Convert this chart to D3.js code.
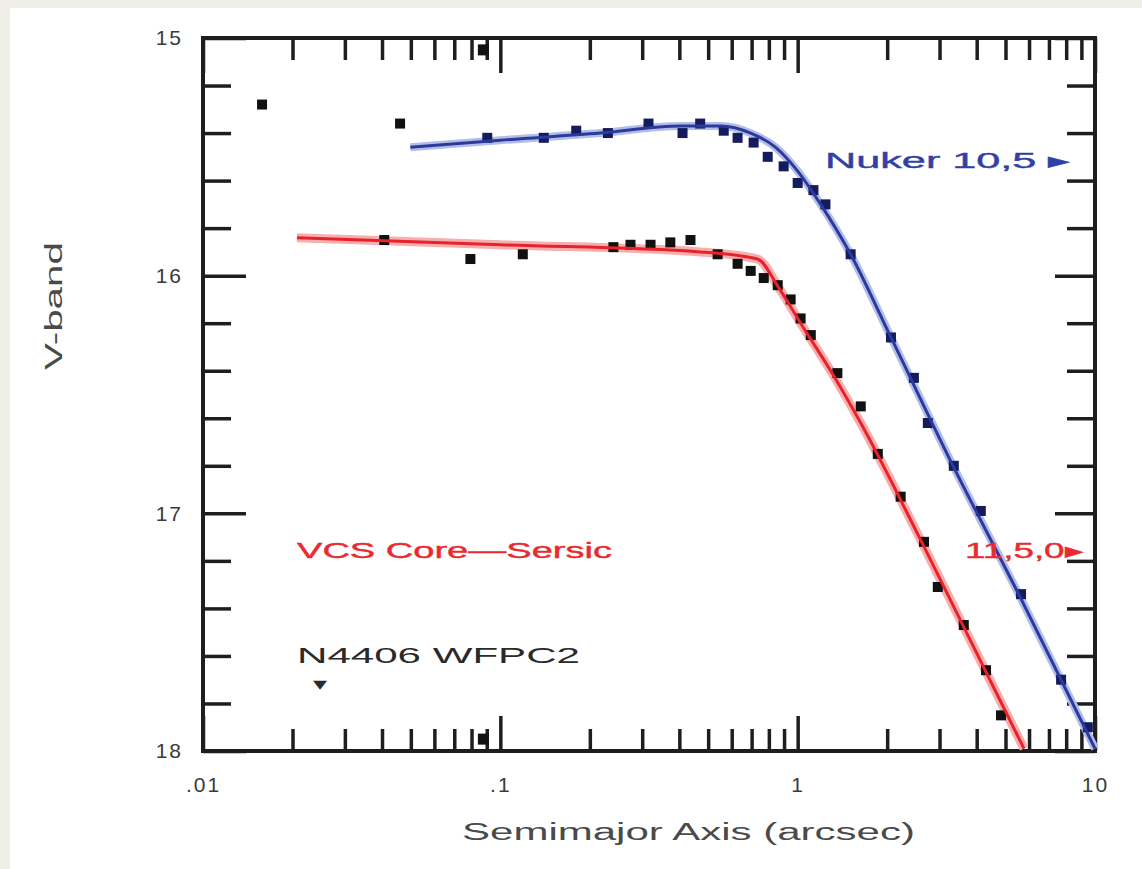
<!DOCTYPE html>
<html>
<head>
<meta charset="utf-8">
<script src="https://cdn.jsdelivr.net/npm/d3@7"></script>
<style>
  body { margin: 0; background: #efeee6; }
  svg { display: block; font-family: "Liberation Sans", Arial, sans-serif; }
</style>
</head>
<body>
<svg id="chart" width="1142" height="869"></svg>
<script>
// surface brightness profile, semimajor axis (arcsec) vs V-band mag
const nukerR   = [0.0158, 0.046, 0.0904, 0.140, 0.18, 0.23, 0.315, 0.41, 0.47, 0.564, 0.628, 0.711, 0.793, 0.897, 1.0, 1.13, 1.24, 1.507, 2.06, 2.46, 2.74, 3.35, 4.13, 5.64, 7.69, 9.46];
const nukerMag = [15.28, 15.36, 15.42, 15.42, 15.39, 15.40, 15.36, 15.40, 15.36, 15.39, 15.42, 15.44, 15.50, 15.54, 15.61, 15.64, 15.70, 15.91, 16.26, 16.43, 16.62, 16.80, 16.99, 17.34, 17.70, 17.90];

const csR   = [0.0407, 0.0793, 0.119, 0.24, 0.274, 0.32, 0.373, 0.436, 0.538, 0.628, 0.695, 0.769, 0.857, 0.947, 1.023, 1.107, 1.36, 1.63, 1.86, 2.22, 2.66, 2.96, 3.62, 4.30, 4.83];
const csMag = [15.85, 15.93, 15.91, 15.88, 15.87, 15.87, 15.86, 15.85, 15.91, 15.95, 15.98, 16.01, 16.04, 16.10, 16.18, 16.25, 16.41, 16.55, 16.75, 16.93, 17.12, 17.31, 17.47, 17.66, 17.85];

// two points sitting on the frame edges
const edgeR   = [0.0877, 0.0877];
const edgeMag = [15.05, 17.95];

// fitted model curves
const nukerFitR   = [0.0498, 0.1, 0.217, 0.404, 0.551, 0.695, 0.843, 1.0, 1.195, 1.507, 2.06, 3.27, 5.64, 10];
const nukerFitMag = [15.46, 15.43, 15.40, 15.37, 15.37, 15.40, 15.46, 15.56, 15.70, 15.91, 16.26, 16.78, 17.36, 17.99];

const csFitR   = [0.0207, 0.1, 0.471, 0.733, 0.863, 1.023, 1.32, 1.63, 2.66, 5.77];
const csFitMag = [15.84, 15.87, 15.90, 15.93, 16.05, 16.20, 16.42, 16.62, 17.14, 17.99];

const xMajor = [0.01, 0.1, 1, 10];
const xMajorLabels = [".01", ".1", "1", "10"];
const yMajor = [15, 16, 17, 18];

const svg = d3.select("#chart");
const width = +svg.attr("width");
const height = +svg.attr("height");

svg.append("rect")
  .attr("x", 10).attr("y", 8)
  .attr("width", width - 10).attr("height", height - 8)
  .attr("fill", "#ffffff");

const plotL = 203, plotR = 1095, plotT = 38, plotB = 751;

const x = d3.scaleLog().domain([0.01, 10]).range([plotL, plotR]);
const y = d3.scaleLinear().domain([15, 18]).range([plotT, plotB]);

const xMinor = x.ticks().filter(v => !xMajor.some(m => Math.abs(m - v) < 1e-9));
const yMinor = d3.range(15, 18.001, 0.2).filter(v => Math.abs(v - Math.round(v)) > 1e-6);

function styleAxis(g) {
  g.select(".domain").remove();
  g.selectAll(".tick line").attr("stroke", "#1e1e1e").attr("stroke-width", 3.5);
  g.selectAll(".tick text")
    .attr("fill", "#3a3a3a")
    .attr("font-size", 21)
    .attr("font-family", "Liberation Sans, Arial, sans-serif")
    .attr("letter-spacing", 2);
}

// bottom axis
svg.append("g").attr("transform", `translate(0,${plotB})`)
  .call(d3.axisBottom(x).tickValues(xMinor).tickSize(-22).tickFormat(""))
  .call(styleAxis);
svg.append("g").attr("transform", `translate(0,${plotB})`)
  .call(d3.axisBottom(x).tickValues(xMajor).tickSize(-35).tickPadding(26)
    .tickFormat((d, i) => xMajorLabels[i]))
  .call(styleAxis);

// top axis
svg.append("g").attr("transform", `translate(0,${plotT})`)
  .call(d3.axisTop(x).tickValues(xMinor).tickSize(-22).tickFormat(""))
  .call(styleAxis);
svg.append("g").attr("transform", `translate(0,${plotT})`)
  .call(d3.axisTop(x).tickValues(xMajor).tickSize(-35).tickFormat(""))
  .call(styleAxis);

// left axis
svg.append("g").attr("transform", `translate(${plotL},0)`)
  .call(d3.axisLeft(y).tickValues(yMinor).tickSize(-28).tickFormat(""))
  .call(styleAxis);
svg.append("g").attr("transform", `translate(${plotL},0)`)
  .call(d3.axisLeft(y).tickValues(yMajor).tickSize(-43).tickPadding(20).tickFormat(d3.format("d")))
  .call(styleAxis);

// right axis
svg.append("g").attr("transform", `translate(${plotR},0)`)
  .call(d3.axisRight(y).tickValues(yMinor).tickSize(-28).tickFormat(""))
  .call(styleAxis);
svg.append("g").attr("transform", `translate(${plotR},0)`)
  .call(d3.axisRight(y).tickValues(yMajor).tickSize(-40).tickFormat(""))
  .call(styleAxis);

// frame
svg.append("rect")
  .attr("x", plotL).attr("y", plotT)
  .attr("width", plotR - plotL).attr("height", plotB - plotT)
  .attr("fill", "none")
  .attr("stroke", "#1e1e1e")
  .attr("stroke-width", 4);

const line = d3.line()
  .x(d => x(d[0]))
  .y(d => y(d[1]))
  .curve(d3.curveMonotoneX);

const nukerFit = d3.zip(nukerFitR, nukerFitMag);
const csFit = d3.zip(csFitR, csFitMag);

// soft halos under the fits
svg.append("path").datum(nukerFit)
  .attr("d", line).attr("fill", "none")
  .attr("stroke", "#b4bde6").attr("stroke-width", 8);
svg.append("path").datum(csFit)
  .attr("d", line).attr("fill", "none")
  .attr("stroke", "#f6aeae").attr("stroke-width", 9);

function drawPoints(rs, mags, color, size) {
  svg.append("g")
    .selectAll("rect")
    .data(d3.zip(rs, mags))
    .join("rect")
    .attr("x", d => x(d[0]) - size / 2)
    .attr("y", d => y(d[1]) - size / 2)
    .attr("width", size)
    .attr("height", size)
    .attr("fill", color);
}

// points inside the fitted range pick up the line colour
drawPoints(nukerR, nukerMag, d => d[0] < 0.05 ? "#111111" : "#141c5e", 10);
drawPoints(csR, csMag, "#111111", 10);
drawPoints(edgeR, edgeMag, "#111111", 11);

svg.append("path").datum(nukerFit)
  .attr("d", line).attr("fill", "none")
  .attr("stroke", "#2a3a9e").attr("stroke-width", 3);
svg.append("path").datum(csFit)
  .attr("d", line).attr("fill", "none")
  .attr("stroke", "#e8222a").attr("stroke-width", 3);

// text annotations
function label(txt, px, py, color, size, len, anchor) {
  return svg.append("text")
    .attr("x", px).attr("y", py)
    .attr("fill", color)
    .attr("font-size", size)
    .attr("text-anchor", anchor || "start")
    .attr("textLength", len)
    .attr("lengthAdjust", "spacingAndGlyphs")
    .text(txt);
}

label("Nuker  10,5 \u25B8", 825, 168, "#3040a4", 22, 245).attr("stroke", "#3040a4").attr("stroke-width", 0.4);
label("VCS Core\u2014Sersic", 297, 558, "#ea2a2e", 22, 315).attr("stroke", "#ea2a2e").attr("stroke-width", 0.4);
label("11,5,0\u25B8", 965, 558, "#ea2a2e", 22, 118).attr("stroke", "#ea2a2e").attr("stroke-width", 0.4);
label("N4406 WFPC2", 297, 663, "#2a2a2a", 22, 283);
label("\u25BE", 313, 690, "#2a2a2a", 18, 14);

// axis titles
label("Semimajor Axis (arcsec)", 462, 840, "#4a4a4a", 23, 453);
svg.append("text")
  .attr("transform", "translate(62,370) rotate(-90)")
  .attr("fill", "#4a4a4a")
  .attr("font-size", 23)
  .attr("textLength", 128)
  .attr("lengthAdjust", "spacingAndGlyphs")
  .text("V-band");
</script>
</body>
</html>
